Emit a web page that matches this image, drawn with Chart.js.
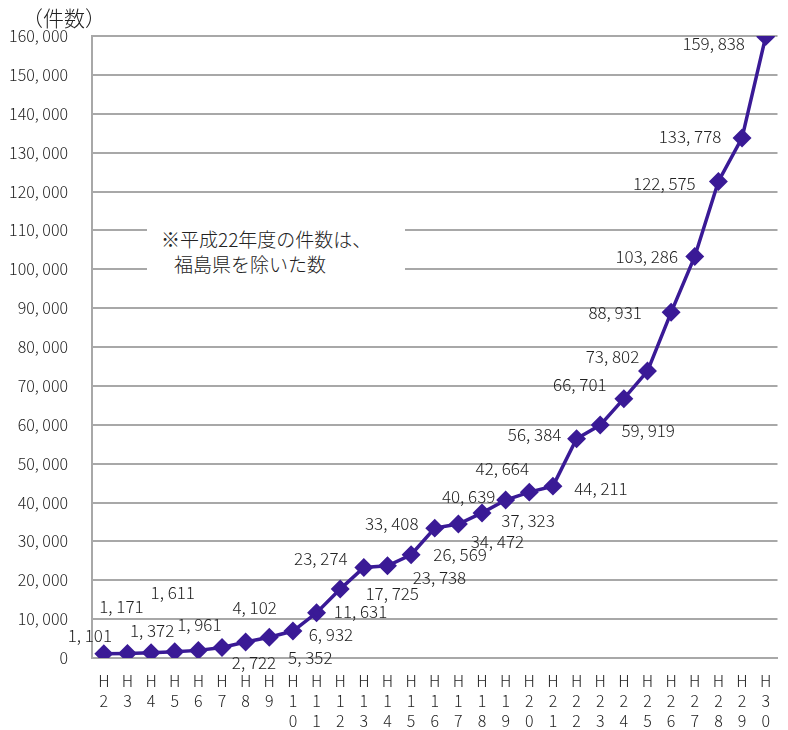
<!DOCTYPE html>
<html>
<head>
<meta charset="utf-8">
<script src="https://cdn.jsdelivr.net/npm/chart.js@4/dist/chart.umd.min.js"></script>
<style>
  body { margin: 0; background: #fff; }
  #wrap { position: relative; width: 788px; height: 730px; }
  #title { position: absolute; left: 22px; top: 2px; font: 300 21px "Noto Sans CJK JP"; color: #222; }
  #note { position: absolute; left: 147px; top: 208px; width: 258px; height: 80px; background: #fff;
          font: 300 19px "Noto Sans CJK JP"; color: #222; line-height: 25px; }
  #note div { white-space: nowrap; }
</style>
</head>
<body>
<div id="wrap">
  <canvas id="abuse-chart" width="788" height="730"></canvas>
  <div id="title">（件数）</div>
  <div id="note">
    <div style="margin-left:14px;margin-top:18px">※平成22年度の件数は、</div>
    <div style="margin-left:27px">福島県を除いた数</div>
  </div>
</div>
<script>
const years = ["2", "3", "4", "5", "6", "7", "8", "9", "10", "11", "12", "13", "14", "15", "16",
               "17", "18", "19", "20", "21", "22", "23", "24", "25", "26", "27", "28", "29", "30"];

const cases = [1101, 1171, 1372, 1611, 1961, 2722, 4102, 5352, 6932, 11631, 17725, 23274, 23738, 26569, 33408,
               34472, 37323, 40639, 42664, 44211, 56384, 59919, 66701, 73802, 88931, 103286, 122575, 133778, 159838];

// where each value label sits, relative to its point (px)
const labelOffsets = [
    [-14, -18], [-6, -47], [1, -22], [-2, -59], [1, -26], [32, 15], [9, -35], [41, 20], [38, 3], [44, -1],
    [52, 4], [-43, -9], [52, 12], [49, 0], [-43, -5], [39, 18], [46, 8], [-37, -3], [-27, -24], [48, 2],
    [-42, -4], [48, 5], [-44, -14], [-35, -15], [-56, 0], [-48, 0], [-54, 2], [-52, -1], [-52, 7]
];

// "H" on top, digits stacked under it
const xLabels = years.map(y => ["H"].concat(y.split("")));

function fmt(n) {
    return n.toLocaleString("en-US").replace(/,/g, ", ");
}

const valueLabels = {
    id: "valueLabels",
    afterDatasetsDraw(chart) {
        const ctx = chart.ctx;
        const pts = chart.getDatasetMeta(0).data;
        ctx.save();
        ctx.font = '300 17px "Noto Sans CJK JP"';
        ctx.fillStyle = "#222";
        ctx.textAlign = "center";
        ctx.textBaseline = "middle";
        pts.forEach((p, i) => {
            ctx.fillText(fmt(cases[i]), p.x + labelOffsets[i][0], p.y + labelOffsets[i][1]);
        });
        ctx.restore();
    }
};

const chartData = {
    labels: xLabels,
    datasets: [{
        data: cases,
        borderColor: "#3a1a96",
        backgroundColor: "#3a1a96",
        borderWidth: 3.5,
        pointStyle: "rectRot",
        pointRadius: 7,
        pointHoverRadius: 7,
        tension: 0
    }]
};

const chartOptions = {
    responsive: false,
    animation: false,
    layout: { padding: { top: 36, right: 10, left: 0, bottom: 0 } },
    scales: {
        x: {
            offset: true,
            grid: { display: false, drawTicks: false },
            border: { color: "#a8a8a8", width: 2 },
            ticks: {
                maxRotation: 0,
                autoSkip: false,
                padding: 13,
                color: "#222",
                font: { family: "Noto Sans CJK JP", size: 16, weight: 300, lineHeight: 1.25 }
            },
            afterFit(scale) { scale.height = 72; }
        },
        y: {
            min: 0,
            max: 160000,
            grid: { color: "#a8a8a8", lineWidth: 2, drawTicks: false },
            border: { color: "#a8a8a8", width: 2 },
            ticks: {
                stepSize: 10000,
                padding: 24,
                color: "#222",
                font: { family: "Noto Sans CJK JP", size: 16, weight: 300 },
                callback: v => fmt(v)
            },
            afterFit(scale) { scale.width = 92; }
        }
    },
    plugins: {
        legend: { display: false },
        tooltip: { enabled: false }
    }
};

new Chart(document.getElementById("abuse-chart"), {
    type: "line",
    data: chartData,
    options: chartOptions,
    plugins: [valueLabels]
});
</script>
</body>
</html>
